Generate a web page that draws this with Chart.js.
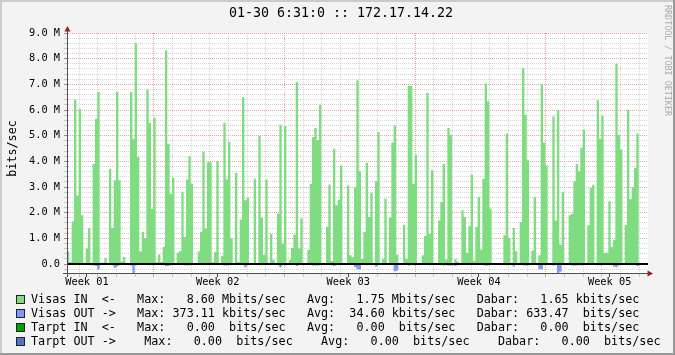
<!doctype html>
<html lang="en">
  <head>
    <meta charset="utf-8">
    <title>01-30 6:31:0 :: 172.17.14.22</title>
    <script src="https://cdn.jsdelivr.net/npm/chart.js"></script>
    <style>
      html, body { margin: 0; padding: 0; background: #f3f3f3; }
      canvas { display: block; }
    </style>
  </head>
  <body>
    <canvas id="myChart" width="675" height="355"></canvas>
    <script>
        // one sample every 3 hours, values in Mbit/s (OUT drawn below zero)
        const sampleDays = 0.125;

        const visasIn = [
            0.5, 0.08, 1.66, 6.4, 2.67, 6.05, 1.9, 0.05, 0.6, 1.4,
            0.05, 3.9, 5.66, 6.7, 0.05, 0.05, 0.23, 0.04, 3.7, 1.4,
            3.26, 6.7, 3.26, 0.1, 0.27, 0.05, 0, 6.7, 4.88, 8.6,
            4.17, 0.5, 1.25, 1.0, 6.8, 5.5, 2.15, 5.7, 0.08, 0.37,
            0.08, 0.66, 8.33, 4.69, 2.74, 3.36, 0.01, 0.44, 0.5, 2.82,
            1.05, 3.29, 4.2, 3.13, 0.03, 0.03, 0.5, 1.25, 4.38, 1.38,
            3.96, 3.96, 0.08, 0.47, 4.0, 0.04, 0.32, 5.5, 3.29, 4.75,
            1.0, 0.03, 3.56, 0.08, 1.73, 6.5, 2.48, 2.58, 0.03, 0.03,
            3.32, 0.03, 4.99, 1.8, 0.36, 3.29, 0.04, 1.18, 0.17, 0.04,
            1.96, 5.43, 0.79, 5.38, 0.03, 0.17, 0.62, 1.14, 7.09, 0.6,
            1.77, 0.03, 0.03, 0.56, 3.13, 4.95, 5.3, 4.82, 6.2, 0.03,
            0.03, 1.44, 3.1, 0.12, 4.49, 2.29, 2.5, 3.84, 0.03, 0.03,
            3.06, 0.34, 0.26, 3.0, 7.16, 3.62, 0.2, 1.25, 3.95, 1.83,
            2.78, 0.03, 3.23, 5.14, 0.03, 0.2, 2.55, 0.03, 1.8, 4.73,
            5.4, 0.36, 0.03, 0.03, 1.53, 0.2, 6.94, 6.94, 3.13, 4.26,
            0.03, 0.03, 0.34, 1.09, 6.66, 1.18, 3.65, 0.03, 0.03, 1.7,
            2.42, 3.9, 0.18, 5.3, 5.04, 0.03, 0.2, 0.1, 0.03, 2.09,
            1.83, 0.44, 1.48, 3.49, 0.13, 1.44, 2.61, 0.57, 3.32, 7.03,
            6.34, 2.16, 0.03, 0.02, 0.02, 0.02, 0.02, 1.12, 5.08, 1.01,
            0.05, 1.4, 0.5, 0.03, 1.64, 7.64, 5.82, 4.04, 0.03, 0.53,
            2.61, 0.05, 0.34, 6.99, 4.73, 3.84, 0.03, 0.03, 5.75, 1.7,
            5.99, 0.75, 2.8, 0.03, 0.03, 1.9, 1.96, 3.22, 3.9, 3.61,
            4.53, 5.23, 0.03, 1.51, 2.97, 3.09, 0.03, 6.38, 4.88, 5.77,
            0.44, 0.44, 2.45, 0.66, 0.95, 7.8, 5.04, 4.47, 0.03, 1.53,
            6.01, 2.52, 3.0, 3.74, 5.08, 0, 0, 0, 0
        ];

        const visasOut = [
            0, 0, -0.03, 0, 0, 0, 0, 0, 0, 0,
            0, -0.05, -0.08, -0.2, 0, 0, 0, 0, 0, -0.05,
            -0.15, -0.1, -0.05, 0, 0, 0, 0, -0.06, -0.37, -0.06,
            -0.04, 0, 0, 0, -0.05, -0.05, 0, 0, 0, -0.02,
            0, 0, -0.08, -0.08, 0, 0, 0, 0, 0, 0,
            -0.05, -0.05, -0.05, 0, 0, 0, 0, 0, 0, -0.04,
            -0.04, 0, 0, 0, 0, 0, 0, -0.06, -0.06, 0,
            0, 0, 0, 0, 0, 0, -0.13, 0, 0, 0,
            0, 0, -0.05, 0, 0, 0, 0, 0, 0, 0,
            -0.05, -0.13, 0, -0.05, 0, 0, 0, 0, -0.08, 0,
            0, 0, 0, 0, 0, -0.06, -0.06, -0.06, 0, 0,
            0, 0, 0, 0, -0.08, -0.05, 0, 0, 0, 0,
            0, 0, 0, -0.12, -0.2, -0.2, 0, 0, -0.05, 0,
            0, 0, -0.1, 0, 0, 0, 0, 0, 0, 0,
            -0.28, -0.25, 0, 0, 0, 0, -0.06, 0, -0.05, 0,
            0, 0, 0, 0, 0, -0.05, 0, 0, 0, 0,
            0, -0.06, 0, -0.06, -0.06, 0, -0.08, 0, 0, 0,
            0, 0, 0, 0, 0, 0, 0, 0, 0, -0.06,
            -0.06, 0, 0, 0, 0, 0, 0, 0, -0.05, 0,
            0, -0.1, 0, 0, 0, 0, -0.06, -0.06, 0, 0,
            0, 0, -0.2, -0.2, 0, 0, 0, 0, -0.06, 0,
            -0.35, -0.3, 0, 0, 0, 0, -0.06, -0.06, -0.06, 0,
            -0.06, 0, 0, 0, 0, 0, 0, -0.05, -0.05, 0,
            0, 0, 0, 0, -0.1, -0.13, -0.05, 0, 0, 0,
            -0.05, 0, 0, 0, -0.08, 0, 0, 0, 0
        ];

        // x axis in days from the left edge of the graph
        const weekLabels = ['Week 01', 'Week 02', 'Week 03', 'Week 04', 'Week 05'];
        const firstWeekLabel = 1.07;
        const firstWeekLine = 4.66;
        const yMin = -0.35;
        const yMax = 9.0;

        const legendColors = ['#80dc80', '#8096ff', '#00a000', '#5474cc'];
        const legendLines = [
            'Visas IN  <-   Max:   8.60 Mbits/sec   Avg:   1.75 Mbits/sec   Dabar:   1.65 kbits/sec',
            'Visas OUT ->   Max: 373.11 kbits/sec   Avg:  34.60 kbits/sec   Dabar: 633.47  bits/sec',
            'Tarpt IN  <-   Max:   0.00  bits/sec   Avg:   0.00  bits/sec   Dabar:   0.00  bits/sec',
            'Tarpt OUT ->    Max:   0.00  bits/sec    Avg:   0.00  bits/sec    Dabar:   0.00  bits/sec'
        ];
        const titleText = '01-30 6:31:0 :: 172.17.14.22';
        const yTitle = 'bits/sec';
        const sideText = 'RRDTOOL / TOBI OETIKER';

        const mono = '"DejaVu Sans Mono", monospace';
        const totalDays = visasIn.length * sampleDays;

        const toPoints = (arr) => arr.map((v, i) => ({x: i * sampleDays, y: v}))
            .concat([{x: arr.length * sampleDays, y: arr[arr.length - 1]}]);

        const decorations = {
            id: 'decorations',
            beforeDraw(chart) {
                const {ctx, chartArea: a, width, height} = chart;
                ctx.save();
                ctx.fillStyle = '#f3f3f3';
                ctx.fillRect(0, 0, width, height);
                ctx.fillStyle = '#cbcbcb';
                ctx.fillRect(0, 0, width, 2);
                ctx.fillRect(0, 0, 2, height);
                ctx.fillStyle = '#999999';
                ctx.fillRect(0, height - 2, width, 2);
                ctx.fillRect(width - 2, 0, 2, height);
                ctx.fillStyle = '#ffffff';
                ctx.fillRect(a.left, a.top, a.right - a.left, a.bottom - a.top);
                ctx.restore();
            },
            afterDraw(chart) {
                const {ctx, chartArea: a} = chart;
                ctx.save();

                // axis extensions + arrows
                ctx.strokeStyle = '#505050';
                ctx.lineWidth = 1;
                ctx.beginPath();
                ctx.moveTo(a.left + 0.5, 30);
                ctx.lineTo(a.left + 0.5, a.bottom + 4);
                ctx.moveTo(a.left - 4, a.bottom + 0.5);
                ctx.lineTo(a.right + 2, a.bottom + 0.5);
                ctx.stroke();
                ctx.fillStyle = '#9a1e1e';
                ctx.beginPath();
                ctx.moveTo(a.left + 0.5, 26);
                ctx.lineTo(a.left + 3.5, 31.5);
                ctx.lineTo(a.left - 2.5, 31.5);
                ctx.closePath();
                ctx.fill();
                ctx.beginPath();
                ctx.moveTo(a.right + 5, a.bottom + 0.5);
                ctx.lineTo(a.right - 0.5, a.bottom - 2.5);
                ctx.lineTo(a.right - 0.5, a.bottom + 3.5);
                ctx.closePath();
                ctx.fill();

                // title
                ctx.fillStyle = '#000';
                ctx.font = '13.3px ' + mono;
                ctx.textAlign = 'center';
                ctx.textBaseline = 'middle';
                ctx.fillText(titleText, 341, 14);

                // y title
                ctx.save();
                ctx.font = '11.76px ' + mono;
                ctx.translate(13, 148.5);
                ctx.rotate(-Math.PI / 2);
                ctx.fillText(yTitle, 0, 0);
                ctx.restore();

                // side watermark
                ctx.save();
                ctx.fillStyle = '#aaaaaa';
                ctx.font = '8.4px ' + mono;
                ctx.translate(667.5, 60.5);
                ctx.rotate(Math.PI / 2);
                ctx.fillText(sideText, 0, 0);
                ctx.restore();

                // legend
                ctx.font = '11.76px ' + mono;
                ctx.textAlign = 'left';
                legendLines.forEach((line, r) => {
                    const y = 295 + r * 13.9;
                    ctx.fillStyle = legendColors[r];
                    ctx.fillRect(16, Math.round(y), 9, 9);
                    ctx.strokeStyle = '#222';
                    ctx.strokeRect(16.5, Math.round(y) + 0.5, 8, 8);
                    ctx.fillStyle = '#000';
                    ctx.fillText(line, 31, y + 5);
                });
                ctx.restore();
            }
        };

        const data = {
            datasets: [
                {
                    label: 'zero',
                    data: [{x: 0, y: 0}, {x: totalDays, y: 0}],
                    borderColor: '#000000',
                    borderWidth: 2,
                    pointRadius: 0,
                    fill: false,
                    order: 0
                },
                {
                    label: 'Visas IN',
                    data: toPoints(visasIn),
                    backgroundColor: legendColors[0],
                    borderColor: 'rgba(0,0,0,0)',
                    borderWidth: 0,
                    stepped: true,
                    fill: 'origin',
                    pointRadius: 0,
                    order: 1
                },
                {
                    label: 'Visas OUT',
                    data: toPoints(visasOut),
                    backgroundColor: legendColors[1],
                    borderColor: 'rgba(0,0,0,0)',
                    borderWidth: 0,
                    stepped: true,
                    fill: 'origin',
                    pointRadius: 0,
                    order: 1
                }
            ]
        };

        const xKindColor = {week: '#e4a4a4', day: '#d4d4d4', label: 'rgba(0,0,0,0)'};
        const xTickColor = {week: '#e4a4a4', day: '#c8c8c8', label: '#404040'};

        const config = {
            type: 'line',
            data,
            options: {
                responsive: false,
                animation: false,
                events: [],
                layout: {padding: {top: 33, right: 27, bottom: 0, left: 0}},
                plugins: {
                    legend: {display: false},
                    tooltip: {enabled: false},
                    title: {display: false}
                },
                scales: {
                    x: {
                        type: 'linear',
                        min: 0,
                        max: totalDays,
                        afterFit: (s) => { s.height = 82; },
                        afterBuildTicks: (s) => {
                            const ticks = [];
                            for (let k = -4; firstWeekLine + k < totalDays; k++) {
                                const d = firstWeekLine + k;
                                if (d <= 0) continue;
                                ticks.push({value: d, kind: k % 7 === 0 ? 'week' : 'day'});
                            }
                            weekLabels.forEach((name, k) => {
                                ticks.push({value: firstWeekLabel + 7 * k, kind: 'label', name});
                            });
                            ticks.sort((p, q) => p.value - q.value);
                            s.ticks = ticks;
                        },
                        ticks: {
                            autoSkip: false,
                            maxRotation: 0,
                            minRotation: 0,
                            padding: 0,
                            color: '#000',
                            font: {family: mono, size: 10.3, lineHeight: 1},
                            callback: (v, i, t) => t[i].name || ''
                        },
                        grid: {
                            color: (c) => c.tick ? xKindColor[c.tick.kind] : '#d4d4d4',
                            tickColor: (c) => c.tick ? xTickColor[c.tick.kind] : '#404040',
                            tickLength: 4,
                            lineWidth: 1
                        },
                        border: {display: true, color: '#505050', dash: [1, 1]}
                    },
                    y: {
                        type: 'linear',
                        min: yMin,
                        max: yMax,
                        afterFit: (s) => { s.width = 67; },
                        afterBuildTicks: (s) => {
                            const ticks = [];
                            for (let k = -1; k <= 45; k++) ticks.push({value: +(k * 0.2).toFixed(1)});
                            s.ticks = ticks;
                        },
                        ticks: {
                            autoSkip: false,
                            padding: 4,
                            color: '#000',
                            font: {family: mono, size: 10.3},
                            callback: (v) => Number.isInteger(v) ? (v === 0 ? '0.0' : v.toFixed(1) + ' M') : ''
                        },
                        grid: {
                            color: (c) => {
                                if (!c.tick) return '#d4d4d4';
                                const v = c.tick.value;
                                if (v === 0) return 'rgba(0,0,0,0)';
                                return Number.isInteger(v) ? '#e4a4a4' : '#d4d4d4';
                            },
                            tickColor: (c) => (c.tick && Number.isInteger(c.tick.value)) ? '#c08080' : '#c8c8c8',
                            tickLength: 3,
                            lineWidth: 1
                        },
                        border: {display: true, color: '#505050', dash: [1, 1]}
                    }
                }
            },
            plugins: [decorations]
        };

        const myChart = new Chart(document.getElementById('myChart'), config);
    </script>
  </body>
</html>
